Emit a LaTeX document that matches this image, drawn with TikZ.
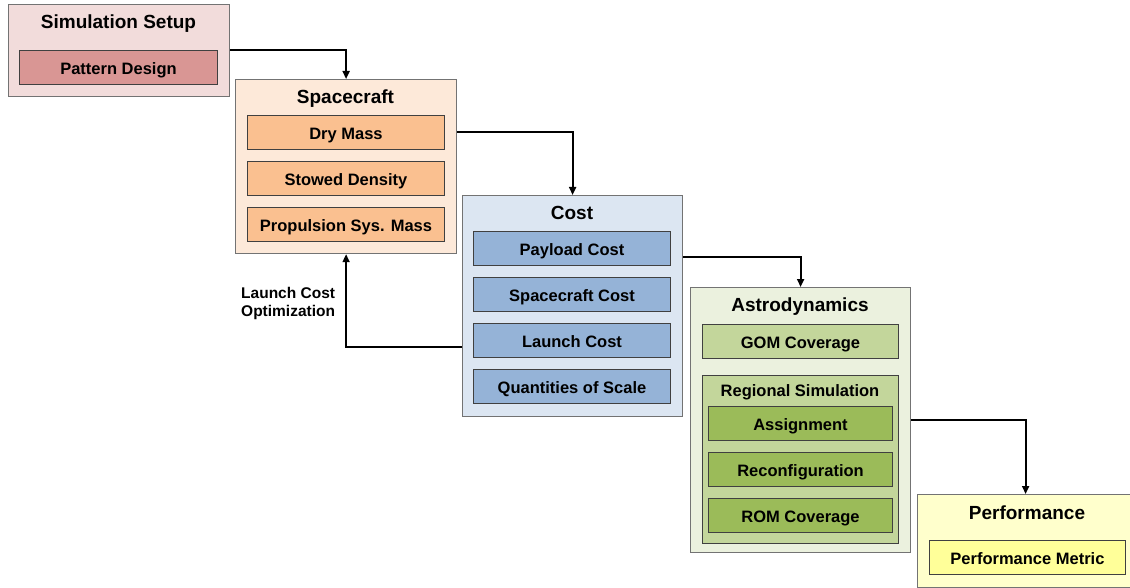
\documentclass[tikz,border=0pt]{standalone}
\usepackage{fontspec}
\setmainfont{Liberation Sans}
\usetikzlibrary{arrows.meta}
\definecolor{pinkA}{HTML}{F2DCDB}
\definecolor{pinkB}{HTML}{D99694}
\definecolor{orA}{HTML}{FDE9D9}
\definecolor{orB}{HTML}{FAC090}
\definecolor{blA}{HTML}{DCE6F2}
\definecolor{blB}{HTML}{95B3D7}
\definecolor{grA}{HTML}{EBF1DE}
\definecolor{grB}{HTML}{C3D69B}
\definecolor{grC}{HTML}{9BBB59}
\definecolor{yeA}{HTML}{FFFFCC}
\definecolor{yeB}{HTML}{FFFF99}
\tikzset{
  outerbox/.style={draw=black!55, line width=1.2pt, anchor=north west, inner sep=0pt},
  innerbox/.style={draw=black!75, line width=1pt, anchor=north west, inner sep=0pt, text height=13.4pt, text depth=0pt, font=\bfseries\fontsize{16.5}{18}\selectfont},
  titletext/.style={font=\bfseries\fontsize{19}{22}\selectfont, inner sep=0pt, text height=13.6pt, text depth=0pt},
  subtitletext/.style={font=\bfseries\fontsize{16.5}{18}\selectfont, inner sep=0pt, text height=11.8pt, text depth=0pt},
  flow/.style={line width=1.8pt, -{Triangle[length=8pt,width=7pt]}},
}
\begin{document}
\begin{tikzpicture}[x=1pt,y=-1pt]
\useasboundingbox (0,0) rectangle (1130,588);
% Simulation Setup
\node[outerbox, fill=pinkA, minimum width=221pt, minimum height=92pt] (sim) at (8,4) {};
\node[titletext] (simT) at (118.5,22) {Simulation Setup};
\node[innerbox, fill=pinkB, minimum width=198pt, minimum height=34pt] (pat) at (19,50) {Pattern Design};
% Spacecraft
\node[outerbox, fill=orA, minimum width=221pt, minimum height=174pt] (sc) at (235,79) {};
\node[titletext] (scT) at (345.5,97) {Spacecraft};
\node[innerbox, fill=orB, minimum width=197pt, minimum height=34pt] (dry) at (247,115) {Dry Mass};
\node[innerbox, fill=orB, minimum width=197pt, minimum height=34pt] (stow) at (247,161) {Stowed Density};
\node[innerbox, fill=orB, minimum width=197pt, minimum height=34pt] (prop) at (247,207) {Propulsion Sys. Mass};
% Cost
\node[outerbox, fill=blA, minimum width=220pt, minimum height=221pt] (cost) at (462,195) {};
\node[titletext] (costT) at (572,213) {Cost};
\node[innerbox, fill=blB, minimum width=197pt, minimum height=34pt] (pay) at (473,231) {Payload Cost};
\node[innerbox, fill=blB, minimum width=197pt, minimum height=34pt] (scc) at (473,277) {Spacecraft Cost};
\node[innerbox, fill=blB, minimum width=197pt, minimum height=34pt] (lc) at (473,323) {Launch Cost};
\node[innerbox, fill=blB, minimum width=197pt, minimum height=34pt] (qs) at (473,369) {Quantities of Scale};
% Astrodynamics
\node[outerbox, fill=grA, minimum width=220pt, minimum height=265pt] (astro) at (690,287) {};
\node[titletext] (astroT) at (800,305) {Astrodynamics};
\node[innerbox, fill=grB, minimum width=196pt, minimum height=34pt] (gom) at (702,324) {GOM Coverage};
\node[innerbox, fill=grB, minimum width=196pt, minimum height=168pt] (reg) at (702,375) {};
\node[subtitletext] (regT) at (800,391) {Regional Simulation};
\node[innerbox, fill=grC, minimum width=184pt, minimum height=34pt] (asg) at (708,406) {Assignment};
\node[innerbox, fill=grC, minimum width=184pt, minimum height=34pt] (rec) at (708,452) {Reconfiguration};
\node[innerbox, fill=grC, minimum width=184pt, minimum height=34pt] (rom) at (708,498) {ROM Coverage};
% Performance
\node[outerbox, fill=yeA, minimum width=216pt, minimum height=93pt] (perf) at (917,494) {};
\node[titletext] (perfT) at (1027,513) {Performance};
\node[innerbox, fill=yeB, minimum width=196pt, minimum height=34pt] (pm) at (929,540) {Performance Metric};
% connectors
\draw[flow] (sim.east |- 0,50) -| (sc.north);
\draw[flow] (sc.east |- 0,132) -| (cost.north);
\draw[flow] (cost.east |- 0,257) -| (astro.north);
\draw[flow] (astro.east |- 0,420) -| (perf.north);
\draw[flow] (cost.west |- 0,347) -| (sc.south);
\node[font=\bfseries\fontsize{15.5}{18}\selectfont, align=left, anchor=west, inner sep=0pt] (lbl) at (241,303) {Launch Cost\\Optimization};
\end{tikzpicture}
\end{document}
